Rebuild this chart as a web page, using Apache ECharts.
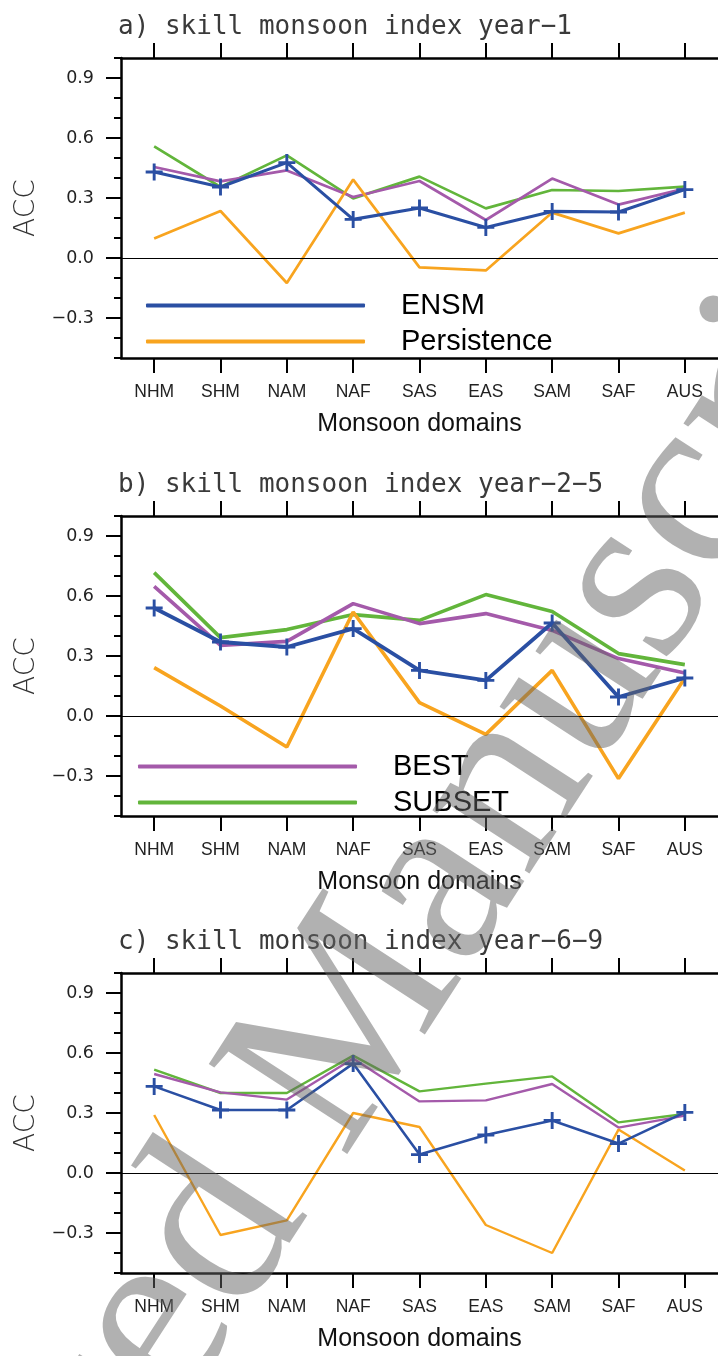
<!DOCTYPE html>
<html>
<head>
<meta charset="utf-8">
<script src="https://cdn.jsdelivr.net/npm/echarts@6/dist/echarts.min.js"></script>
<style>
html,body{margin:0;padding:0;background:#fff;}
#chart{width:718px;height:1356px;}
</style>
</head>
<body>
<div id="chart"></div>
<script>
const categories = ['NHM','SHM','NAM','NAF','SAS','EAS','SAM','SAF','AUS'];
const yTickValues = [-0.3, 0, 0.3, 0.6, 0.9];
const panelTitles = ['a) skill monsoon index year\u22121', 'b) skill monsoon index year\u22122\u22125', 'c) skill monsoon index year\u22126\u22129'];

// panel a) year-1
const ensmA    = [0.43, 0.355, 0.477, 0.193, 0.25, 0.153, 0.233, 0.23, 0.342];
const bestA    = [0.455, 0.383, 0.438, 0.305, 0.385, 0.19, 0.397, 0.267, 0.347];
const subsetA  = [0.558, 0.355, 0.513, 0.298, 0.407, 0.248, 0.34, 0.335, 0.357];
const persA    = [0.097, 0.235, -0.125, 0.392, -0.047, -0.062, 0.227, 0.123, 0.227];
// panel b) year-2-5
const ensmB    = [0.54, 0.37, 0.345, 0.437, 0.228, 0.178, 0.465, 0.095, 0.19];
const bestB    = [0.648, 0.353, 0.373, 0.562, 0.462, 0.512, 0.428, 0.287, 0.215];
const subsetB  = [0.717, 0.392, 0.432, 0.507, 0.478, 0.607, 0.523, 0.312, 0.257];
const persB    = [0.242, 0.05, -0.155, 0.52, 0.067, -0.092, 0.228, -0.313, 0.19];
// panel c) year-6-9
const ensmC    = [0.433, 0.315, 0.315, 0.547, 0.092, 0.19, 0.263, 0.147, 0.303];
const bestC    = [0.495, 0.403, 0.367, 0.573, 0.358, 0.363, 0.445, 0.227, 0.287];
const subsetC  = [0.517, 0.4, 0.4, 0.587, 0.408, 0.447, 0.483, 0.253, 0.295];
const persC    = [0.29, -0.31, -0.237, 0.3, 0.23, -0.26, -0.4, 0.217, 0.013];

const panels = [
  {ensm: ensmA, best: bestA, subset: subsetA, pers: persA, lw: 2.7, lwE: 3.1},
  {ensm: ensmB, best: bestB, subset: subsetB, pers: persB, lw: 3.6, lwE: 3.8},
  {ensm: ensmC, best: bestC, subset: subsetC, pers: persC, lw: 2.4, lwE: 2.6}
];

const COL = {ensm: '#2a4fa3', best: '#a45aaa', subset: '#62b53b', pers: '#f8a41f'};
const gridTops = [58, 516, 973];
const GH = 300, GL = 121, GW = 600;
const plusPath = 'path://M-1.7,-10 L1.7,-10 L1.7,-1.7 L10,-1.7 L10,1.7 L1.7,1.7 L1.7,10 L-1.7,10 L-1.7,1.7 L-10,1.7 L-10,-1.7 L-1.7,-1.7 Z';

const grid = [], xAxis = [], yAxis = [], series = [], graphic = [];

panels.forEach((p, i) => {
  grid.push({left: GL, top: gridTops[i], width: GW, height: GH});
  // bottom axis
  xAxis.push({
    type: 'category', data: categories, gridIndex: i, position: 'bottom', boundaryGap: true,
    axisLine: {show: true, onZero: false, lineStyle: {color: '#000', width: 2.5}},
    axisTick: {show: true, inside: false, length: 15, alignWithLabel: true, lineStyle: {color: '#000', width: 2}},
    axisLabel: {show: true, margin: 25, color: '#222', fontFamily: 'Liberation Sans', fontSize: 17.5},
    name: 'Monsoon domains', nameLocation: 'middle', nameGap: 54,
    nameTextStyle: {color: '#111', fontFamily: 'Liberation Sans', fontSize: 25},
    splitLine: {show: false}
  });
  // top axis (box + ticks)
  xAxis.push({
    type: 'category', data: categories, gridIndex: i, position: 'top', boundaryGap: true,
    axisLine: {show: true, onZero: false, lineStyle: {color: '#000', width: 2.5}},
    axisTick: {show: true, inside: false, length: 15, alignWithLabel: true, lineStyle: {color: '#000', width: 2}},
    axisLabel: {show: false}, splitLine: {show: false}
  });
  // left axis: labels + major ticks
  yAxis.push({
    type: 'value', gridIndex: i, position: 'left', min: -0.5, max: 1.0,
    axisLine: {show: true, onZero: false, lineStyle: {color: '#000', width: 2.5}},
    axisTick: {show: true, inside: false, length: 15, customValues: yTickValues, lineStyle: {color: '#000', width: 2}},
    axisLabel: {show: true, margin: 27, customValues: yTickValues, color: '#222', fontFamily: 'DejaVu Sans', fontSize: 17.5,
      formatter: v => (v < 0 ? '\u2212' : '') + Math.abs(v).toFixed(1)},
    name: 'ACC', nameLocation: 'middle', nameGap: 80, nameRotate: 90,
    nameTextStyle: {color: '#333', fontFamily: 'DejaVu Sans', fontSize: 28, fontWeight: 200},
    splitLine: {show: false}
  });
  // left axis: minor ticks
  yAxis.push({
    type: 'value', gridIndex: i, position: 'left', min: -0.5, max: 1.0, interval: 0.1,
    axisLine: {show: false},
    axisTick: {show: true, inside: false, length: 7, lineStyle: {color: '#000', width: 2}},
    axisLabel: {show: false}, splitLine: {show: false}
  });
  const xi = i * 2, yi = i * 2;
  series.push({
    name: 'SUBSET', type: 'line', xAxisIndex: xi, yAxisIndex: yi, data: p.subset,
    symbol: 'none', color: COL.subset, lineStyle: {width: p.lw, color: COL.subset}, z: 2
  });
  series.push({
    name: 'BEST', type: 'line', xAxisIndex: xi, yAxisIndex: yi, data: p.best,
    symbol: 'none', color: COL.best, lineStyle: {width: p.lw, color: COL.best}, z: 3
  });
  series.push({
    name: 'Persistence', type: 'line', xAxisIndex: xi, yAxisIndex: yi, data: p.pers,
    symbol: 'none', color: COL.pers, lineStyle: {width: p.lw, color: COL.pers}, z: 4,
    markLine: {silent: true, symbol: 'none', label: {show: false}, animation: false,
      lineStyle: {color: '#000', width: 1.2, type: 'solid'}, data: [{yAxis: 0}]}
  });
  series.push({
    name: 'ENSM', type: 'line', xAxisIndex: xi, yAxisIndex: yi, data: p.ensm,
    symbol: plusPath, symbolSize: 17, showSymbol: true, color: COL.ensm,
    itemStyle: {color: COL.ensm}, lineStyle: {width: p.lwE, color: COL.ensm}, z: 5
  });
  graphic.push({
    type: 'text', x: 118, y: gridTops[i] - 31, z: 10,
    style: {text: panelTitles[i], fill: '#3a3a3a', font: '26px "DejaVu Sans Mono"', align: 'left', verticalAlign: 'middle', textAlign: 'left', textVerticalAlign: 'middle'}
  });
});

graphic.push({
  type: 'text', x: 324, y: 1068, rotation: 57 * Math.PI / 180, z: 100, silent: true,
  style: {text: 'Accepted Manuscript', font: '252px "Liberation Serif"', fill: 'rgba(100,100,100,0.5)',
    align: 'center', verticalAlign: 'middle', textAlign: 'center', textVerticalAlign: 'middle'}
});

const legendCommon = {
  orient: 'vertical', icon: 'roundRect', itemWidth: 219, itemHeight: 4, itemGap: 7,
  selectedMode: false,
  textStyle: {fontFamily: 'Liberation Sans', fontSize: 29, color: '#000', lineHeight: 29, padding: [0, 0, 0, 31]}
};

const option = {
  animation: false,
  backgroundColor: '#fff',
  grid, xAxis, yAxis, series, graphic,
  legend: [
    Object.assign({}, legendCommon, {data: ['ENSM', 'Persistence'], left: 141, top: 286}),
    Object.assign({}, legendCommon, {data: ['BEST', 'SUBSET'], left: 133, top: 747})
  ]
};

const chart = echarts.init(document.getElementById('chart'), null, {renderer: 'canvas'});
chart.setOption(option);
</script>
</body>
</html>
